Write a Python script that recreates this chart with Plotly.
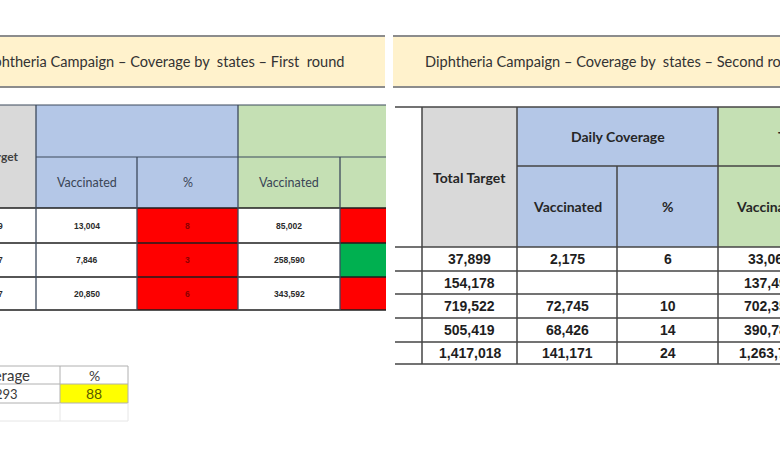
import plotly.graph_objects as go

# ---- data ----
title_round1 = "Diphtheria Campaign \u2013 Coverage by  states \u2013 First  round"
title_round2 = "Diphtheria Campaign \u2013 Coverage by  states \u2013 Second round"

sub_headers = ["Vaccinated", "%", "Vaccinated", "%"]

# first round (left table, only the tail of the target column is visible)
r1_target_tail = ["9", "7", "7"]
r1_daily_vacc = ["13,004", "7,846", "20,850"]
r1_daily_pct = ["8", "3", "6"]
r1_total_vacc = ["85,002", "258,590", "343,592"]
r1_total_ok = [False, True, False]

# second round (right table, last column cut off)
r2_target = ["37,899", "154,178", "719,522", "505,419", "1,417,018"]
r2_daily_vacc = ["2,175", "", "72,745", "68,426", "141,171"]
r2_daily_pct = ["6", "", "10", "14", "24"]
r2_total_vacc = ["33,069", "137,495", "702,355", "390,785", "1,263,704"]

# small summary table bottom left
summary_header = ["Coverage", "%"]
summary_values = ["293", "88"]

# ---- layout of the two slides (pixel grid) ----
L_cols = [0, 36, 137, 238, 340, 386]
L_rows = [105, 157, 208, 243, 277, 310]
R_cols = [395, 422, 517, 617, 718, 822]
R_rows = [107, 166, 247, 271, 294, 318, 342, 364]
S_cols = [0, 60, 128]
S_rows = [366, 384, 403, 421]

BEIGE = "#FFF2CC"
GREY = "#D9D9D9"
BLUE = "#B4C7E7"
GREEN = "#C5E0B4"
RED = "#FF0000"
OK_GREEN = "#00B050"
YELLOW = "#FFFF00"

fig = go.Figure()
shapes = []
notes = []


def rect(x0, x1, y0, y1, fill):
    shapes.append(dict(type="rect", xref="x", yref="y", x0=x0, x1=x1, y0=y0, y1=y1,
                       fillcolor=fill, line=dict(width=0), layer="below"))


def line(x0, x1, y0, y1, color="#333333", width=1.5):
    shapes.append(dict(type="line", xref="x", yref="y", x0=x0, x1=x1, y0=y0, y1=y1,
                       line=dict(color=color, width=width)))


def text(x, y, s, size=12, color="#333333", family="Lato", bold=False, anchor="center"):
    if bold:
        s = "<b>" + s + "</b>"
    notes.append(dict(x=x, y=y, xref="x", yref="y", text=s, showarrow=False,
                      xanchor=anchor, yanchor="middle",
                      font=dict(size=size, color=color, family=family)))


def mid(a, b):
    return (a + b) / 2


# ---- title banners ----
for x0, x1 in [(0, 385), (393, 780)]:
    rect(x0, x1, 36, 87, BEIGE)
    line(x0, x1, 36, 36, "#8C8C8C", 2)
    line(x0, x1, 87, 87, "#8C8C8C", 2)
text(346, 61, title_round1, size=14.6, color="#333333", anchor="right")
text(423, 61, title_round2, size=14.6, color="#333333", anchor="left")

# ---- left table (first round) ----
rect(L_cols[0], L_cols[1], L_rows[0], L_rows[2], GREY)
rect(L_cols[1], L_cols[3], L_rows[0], L_rows[2], BLUE)
rect(L_cols[3], L_cols[5], L_rows[0], L_rows[2], GREEN)
rect(L_cols[0], L_cols[5], L_rows[2], L_rows[-1], "white")
for i in range(len(r1_daily_pct)):
    y0, y1 = L_rows[2 + i], L_rows[3 + i]
    rect(L_cols[2], L_cols[3], y0, y1, RED)
    rect(L_cols[4], L_cols[5], y0, y1, OK_GREEN if r1_total_ok[i] else RED)

hdr = "#3D4A5C"
line(L_cols[0], L_cols[5], L_rows[0], L_rows[0], hdr, 1.2)
line(L_cols[1], L_cols[5], L_rows[1], L_rows[1], hdr, 1.2)
for y in L_rows[2:]:
    line(L_cols[0], L_cols[5], y, y, "#1E1E1E", 1.6)
for x in [L_cols[1], L_cols[3]]:
    line(x, x, L_rows[0], L_rows[-1], hdr, 1.3)
for x in [L_cols[2], L_cols[4]]:
    line(x, x, L_rows[1], L_rows[-1], hdr, 1.3)

text(21, mid(L_rows[0], L_rows[2]), "<b>Total Target</b>", size=12, color="#404040",
     anchor="right")
# the last sub-header sits outside the crop, only the first three are visible
for j, h in enumerate(sub_headers[:3]):
    text(mid(L_cols[1 + j], L_cols[2 + j]), mid(L_rows[1], L_rows[2]), h, size=12.5,
         color="#3A4556")

small = dict(size=8.5, color="#2A2A2A", family="Liberation Sans", bold=True)
for i in range(len(r1_daily_vacc)):
    yc = mid(L_rows[2 + i], L_rows[3 + i])
    text(5, yc, r1_target_tail[i], anchor="right", **small)
    text(mid(L_cols[1], L_cols[2]), yc, r1_daily_vacc[i], **small)
    text(mid(L_cols[2], L_cols[3]), yc, r1_daily_pct[i], size=8.5, color="#8B0000",
         family="Liberation Sans", bold=True)
    text(mid(L_cols[3], L_cols[4]), yc, r1_total_vacc[i], **small)

# ---- small summary table ----
rect(S_cols[1], S_cols[2], S_rows[1], S_rows[2], YELLOW)
for k, y in enumerate(S_rows):
    line(S_cols[0], S_cols[2], y, y, "#B0B0B0" if k < 3 else "#E6E6E6", 1)
line(S_cols[1], S_cols[1], S_rows[0], S_rows[2], "#B0B0B0", 1)
line(S_cols[2], S_cols[2], S_rows[0], S_rows[2], "#B0B0B0", 1)
line(S_cols[1], S_cols[1], S_rows[2], S_rows[3], "#E6E6E6", 1)
line(S_cols[2], S_cols[2], S_rows[2], S_rows[3], "#E6E6E6", 1)
text(32, mid(S_rows[0], S_rows[1]), summary_header[0], size=15, color="#3A3A3A", anchor="right")
text(mid(S_cols[1], S_cols[2]), mid(S_rows[0], S_rows[1]), summary_header[1], size=14, color="#3A3A3A")
text(20, mid(S_rows[1], S_rows[2]), summary_values[0], size=13, color="#3A3A3A", anchor="right")
text(mid(S_cols[1], S_cols[2]), mid(S_rows[1], S_rows[2]), summary_values[1], size=14, color="#5A5A00")

# ---- right table (second round) ----
rect(R_cols[1], R_cols[2], R_rows[0], R_rows[2], GREY)
rect(R_cols[2], R_cols[4], R_rows[0], R_rows[2], BLUE)
rect(R_cols[4], 780, R_rows[0], R_rows[2], GREEN)

for k, y in enumerate(R_rows):
    if k == 1:
        line(R_cols[2], 780, y, y, "#444444", 1.5)
    else:
        line(R_cols[0], 780, y, y, "#444444", 1.5)
for x in [R_cols[1], R_cols[2], R_cols[4]]:
    line(x, x, R_rows[0], R_rows[-1], "#444444", 1.5)
line(R_cols[3], R_cols[3], R_rows[1], R_rows[-1], "#444444", 1.5)

text(mid(R_cols[1], R_cols[2]), 177, "Total Target", size=14, color="#262626", bold=True)
text(mid(R_cols[2], R_cols[4]), mid(R_rows[0], R_rows[1]), "Daily Coverage", size=14,
     color="#262626", bold=True)
text(776, mid(R_rows[0], R_rows[1]), "Total Coverage", size=14, color="#262626", bold=True,
     anchor="left")
for j, h in enumerate(sub_headers[:3]):
    text(mid(R_cols[2 + j], R_cols[3 + j]), mid(R_rows[1], R_rows[2]), h, size=14,
         color="#262626", bold=True)

big = dict(size=14, color="#1E1E1E", family="Liberation Sans", bold=True)
for i in range(len(r2_target)):
    yc = mid(R_rows[2 + i], R_rows[3 + i])
    text(mid(R_cols[1], R_cols[2]), yc, r2_target[i], **big)
    text(mid(R_cols[2], R_cols[3]), yc, r2_daily_vacc[i], **big)
    text(mid(R_cols[3], R_cols[4]), yc, r2_daily_pct[i], **big)
    text(mid(R_cols[4], R_cols[5]) - 0.5, yc, r2_total_vacc[i], **big)

# invisible trace so the axes exist
fig.add_trace(go.Scatter(x=[0, 780], y=[0, 470], mode="markers",
                         marker=dict(opacity=0), hoverinfo="skip", showlegend=False))

fig.update_layout(
    width=780, height=470,
    margin=dict(l=0, r=0, t=0, b=0),
    paper_bgcolor="white", plot_bgcolor="white",
    shapes=shapes, annotations=notes,
    xaxis=dict(range=[0, 780], visible=False, fixedrange=True),
    yaxis=dict(range=[470, 0], visible=False, fixedrange=True),
    showlegend=False,
)

# the page body has a default 8px margin, drop it so the figure fills the window
fig.write_html("out.html", config={"displayModeBar": False},
               post_script="document.body.style.margin='0';document.body.style.overflow='hidden';")
